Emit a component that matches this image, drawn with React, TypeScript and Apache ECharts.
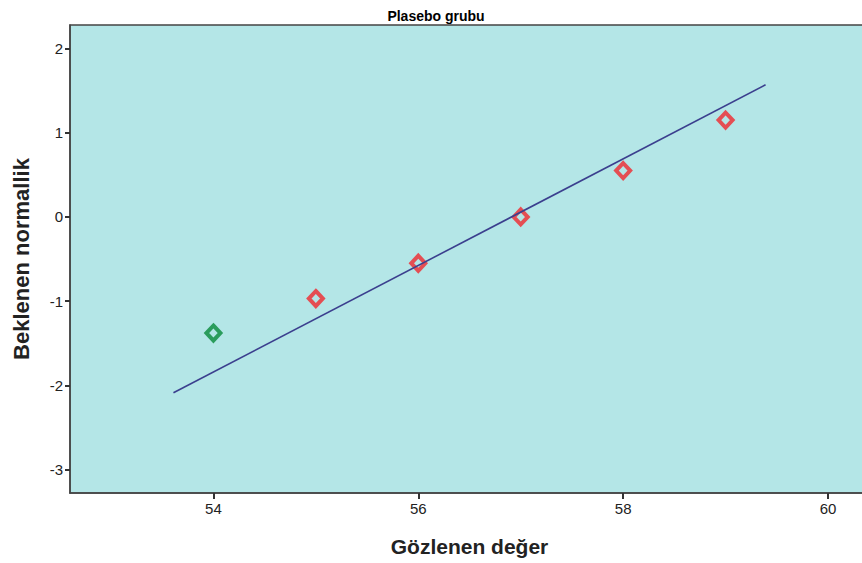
import React, { useEffect, useRef } from "react";
import * as echarts from "echarts";

const observedValues = [54, 55, 56, 57, 58, 59];
const expectedNormal = [-1.38, -0.97, -0.55, 0.0, 0.55, 1.15];
const pointColors = ["#078a3a", "#f0282e", "#f0282e", "#f0282e", "#f0282e", "#f0282e"];
const lineX = [53.61, 59.39];
const lineY = [-2.09, 1.57];
const xTicks = [54, 56, 58, 60];
const yTicks = [-3, -2, -1, 0, 1, 2];

export default function App() {
  const ref = useRef<HTMLDivElement>(null);
  useEffect(() => {
    if (!ref.current) return;
    const chart = echarts.init(ref.current, null, { renderer: "svg" });
    const font = "'Liberation Sans', Arial, sans-serif";
    chart.setOption({
      animation: false,
      backgroundColor: "#ffffff",
      textStyle: { fontFamily: font },
      title: {
        text: "Plasebo grubu",
        left: 431,
        textAlign: "center",
        top: 4,
        textStyle: { fontSize: 14, fontWeight: "bold", color: "#000", fontFamily: font },
      },
      grid: {
        left: 70,
        right: 11,
        top: 25,
        bottom: 70,
        show: true,
        backgroundColor: "#b4e6e7",
        borderColor: "#444",
        borderWidth: 1.5,
      },
      xAxis: {
        type: "value",
        min: 52.6,
        max: 60.4,
        name: "Gözlenen değer",
        nameLocation: "middle",
        nameGap: 43,
        nameTextStyle: { fontSize: 21, fontWeight: "bold", color: "#222", fontFamily: font },
        splitLine: { show: false },
        axisLine: { show: true, onZero: false, lineStyle: { color: "#444", width: 1.5 } },
        axisTick: { show: true, length: 6, lineStyle: { color: "#333", width: 2 }, customValues: xTicks },
        axisLabel: { color: "#222", fontSize: 15, margin: 8, customValues: xTicks, fontFamily: font },
      },
      yAxis: {
        type: "value",
        min: -3.28,
        max: 2.28,
        name: "Beklenen normallik",
        nameLocation: "middle",
        nameGap: 38,
        nameTextStyle: { fontSize: 22, fontWeight: "bold", color: "#222", fontFamily: font },
        splitLine: { show: false },
        axisLine: { show: true, onZero: false, lineStyle: { color: "#444", width: 1.5 } },
        axisTick: { show: true, length: 5, lineStyle: { color: "#333", width: 2 }, customValues: yTicks },
        axisLabel: { color: "#222", fontSize: 15, margin: 7, customValues: yTicks, fontFamily: font },
      },
      series: [
        {
          type: "scatter",
          data: observedValues.map((x, i) => ({
            value: [x, expectedNormal[i]],
            itemStyle: { color: "rgba(0,0,0,0)", borderColor: pointColors[i], borderWidth: 4 },
          })),
          symbol: "diamond",
          symbolSize: [14, 15],
          z: 2,
        },
        {
          type: "line",
          data: lineX.map((x, i) => [x, lineY[i]]),
          showSymbol: false,
          symbol: "none",
          lineStyle: { color: "#3b3f8e", width: 1.6 },
          z: 3,
        },
      ],
    });
    return () => chart.dispose();
  }, []);
  return (
    <div style={{ position: "fixed", left: 0, top: 0, width: 862, height: 563, overflow: "hidden" }}>
      <div ref={ref} style={{ width: 880, height: 563 }} />
    </div>
  );
}
